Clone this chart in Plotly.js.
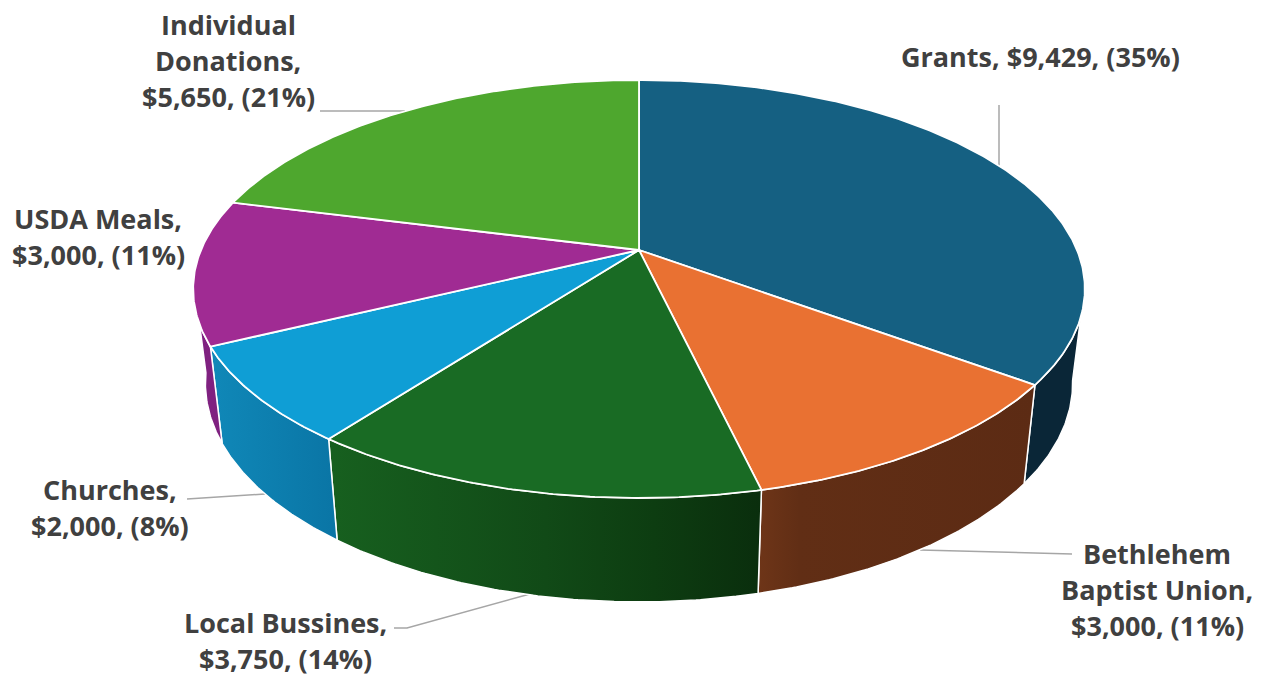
<!DOCTYPE html>
<html>
<head>
<meta charset="utf-8">
<script src="https://cdn.plot.ly/plotly-3.0.1.min.js"></script>
<style>html,body{margin:0;padding:0;background:#fff}#chart{width:1265px;height:677px}</style>
</head>
<body>
<div id="chart"></div>
<script>
// Data
const categories = ["Grants", "Bethlehem Baptist Union", "Local Bussines", "Churches", "USDA Meals", "Individual Donations"];
const values = [9429, 3000, 3750, 2000, 3000, 5650];
const percents = [35, 11, 14, 8, 11, 21];
const labelNameLines = [["Grants,"], ["Bethlehem", "Baptist Union,"], ["Local Bussines,"], ["Churches,"], ["USDA Meals,"], ["Individual", "Donations,"]];
const topColors = ["#156082", "#E97132", "#196B24", "#0F9ED5", "#A02B93", "#4EA72E"];
const wallColors = [
  [[0, "#0A2637"], [1, "#0A2637"]],
  [[0, "#6E3518"], [0.15, "#612E15"], [1, "#5C2B14"]],
  [[0, "#17601F"], [0.5, "#114A17"], [0.75, "#0D3D11"], [1, "#0A2E0D"]],
  [[0, "#1088B8"], [1, "#0A75A5"]],
  [[0, "#7F2180"], [1, "#7F2180"]],
  null
];
// Label layout: centre x of block, centre y of first line (one entry per slice)
const labelX = [1040, 1157, 285, 110, 98, 228];
const labelY = [56, 553, 622.5, 489, 218, 24];
const labelLineGap = 36;
// Leader lines, one polyline per slice
const leaders = [
  [[999, 105], [999, 167]],
  [[1072, 554], [920, 550]],
  [[394, 628], [407, 628], [530, 594]],
  [[187, 499], [265, 494]],
  [],
  [[320, 111], [405, 111]]
];
// 3D projection of the disc
const view = {cx: 639, a: 438, k: 0.1866, topQ: 250, topP: -155.07, botA: 426, botQ: 342.6, botP: -147};

const total = values.reduce((s, v) => s + v, 0);
const rad = d => d * Math.PI / 180;
function topPt(t) {
  const u = Math.cos(rad(t)), s = Math.sin(rad(t)), w = 1 + view.k * u;
  return [view.cx + view.a * s / w, (view.topQ + view.topP * u) / w];
}
function botPt(t) {
  const u = Math.cos(rad(t)), s = Math.sin(rad(t)), w = 1 + view.k * u;
  return [view.cx + view.botA * s / w, (view.botQ + view.botP * u) / w];
}
function range(a, b) {
  const n = Math.max(2, Math.ceil(Math.abs(b - a) / 0.5)), out = [];
  for (let i = 0; i <= n; i++) out.push(a + (b - a) * i / n);
  return out;
}
const money = v => "$" + v.toLocaleString("en-US");

const wallTraces = [], topTraces = [];
let cum = 0;
const wallMin = 100, wallMax = 262;
categories.forEach((name, i) => {
  const t0 = cum / total * 360;
  cum += values[i];
  const t1 = cum / total * 360;
  const hover = name + ": " + money(values[i]) + " (" + percents[i] + "%)";
  // top face
  const arc = range(t0, t1).map(topPt);
  const centre = [view.cx, view.topQ];
  const pts = [centre, ...arc, centre];
  topTraces.push({
    type: "scatter", mode: "lines",
    x: pts.map(p => p[0]), y: pts.map(p => p[1]),
    fill: "toself", fillcolor: topColors[i],
    line: {color: "#FFFFFF", width: 1.8},
    text: hover, hoverinfo: "text", name: name, showlegend: false
  });
  // side wall
  const w0 = Math.max(t0, wallMin), w1 = Math.min(t1, wallMax);
  if (wallColors[i] && w1 > w0) {
    const up = range(w0, w1).map(topPt);
    const down = range(w1, w0).map(botPt);
    const poly = [...up, ...down, up[0]];
    wallTraces.push({
      type: "scatter", mode: "lines",
      x: poly.map(p => p[0]), y: poly.map(p => p[1]),
      fill: "toself",
      fillcolor: wallColors[i][0][1],
      fillgradient: {type: "horizontal", colorscale: wallColors[i]},
      line: {color: "#FFFFFF", width: 1.5},
      text: hover, hoverinfo: "text", showlegend: false
    });
  }
});

const annotations = [];
categories.forEach((name, i) => {
  const lines = labelNameLines[i].slice();
  const tail = money(values[i]) + ", (" + percents[i] + "%)";
  if (i === 0) lines[0] = lines[0] + " " + tail; else lines.push(tail);
  lines.forEach((txt, j) => annotations.push({
    xref: "x", yref: "y", x: labelX[i], y: labelY[i] + j * labelLineGap,
    text: txt, showarrow: false, xanchor: "center", yanchor: "middle", borderpad: 0,
    font: {family: "'Open Sans', sans-serif", size: 27, color: "#404040", weight: 700}
  }));
});

const shapes = leaders.filter(l => l.length).map(l => ({
  type: "path", layer: "below", xref: "x", yref: "y",
  path: "M" + l.map(p => p[0] + "," + p[1]).join("L"),
  line: {color: "#A6A6A6", width: 1.5}
}));

Plotly.newPlot("chart", [...wallTraces, ...topTraces], {
  width: 1265, height: 677,
  margin: {l: 0, r: 0, t: 0, b: 0},
  paper_bgcolor: "#FFFFFF", plot_bgcolor: "#FFFFFF",
  showlegend: false,
  xaxis: {range: [0, 1265], visible: false, fixedrange: true},
  yaxis: {range: [677, 0], visible: false, fixedrange: true},
  annotations: annotations,
  shapes: shapes
}, {displayModeBar: false, responsive: false});
</script>
</body>
</html>
